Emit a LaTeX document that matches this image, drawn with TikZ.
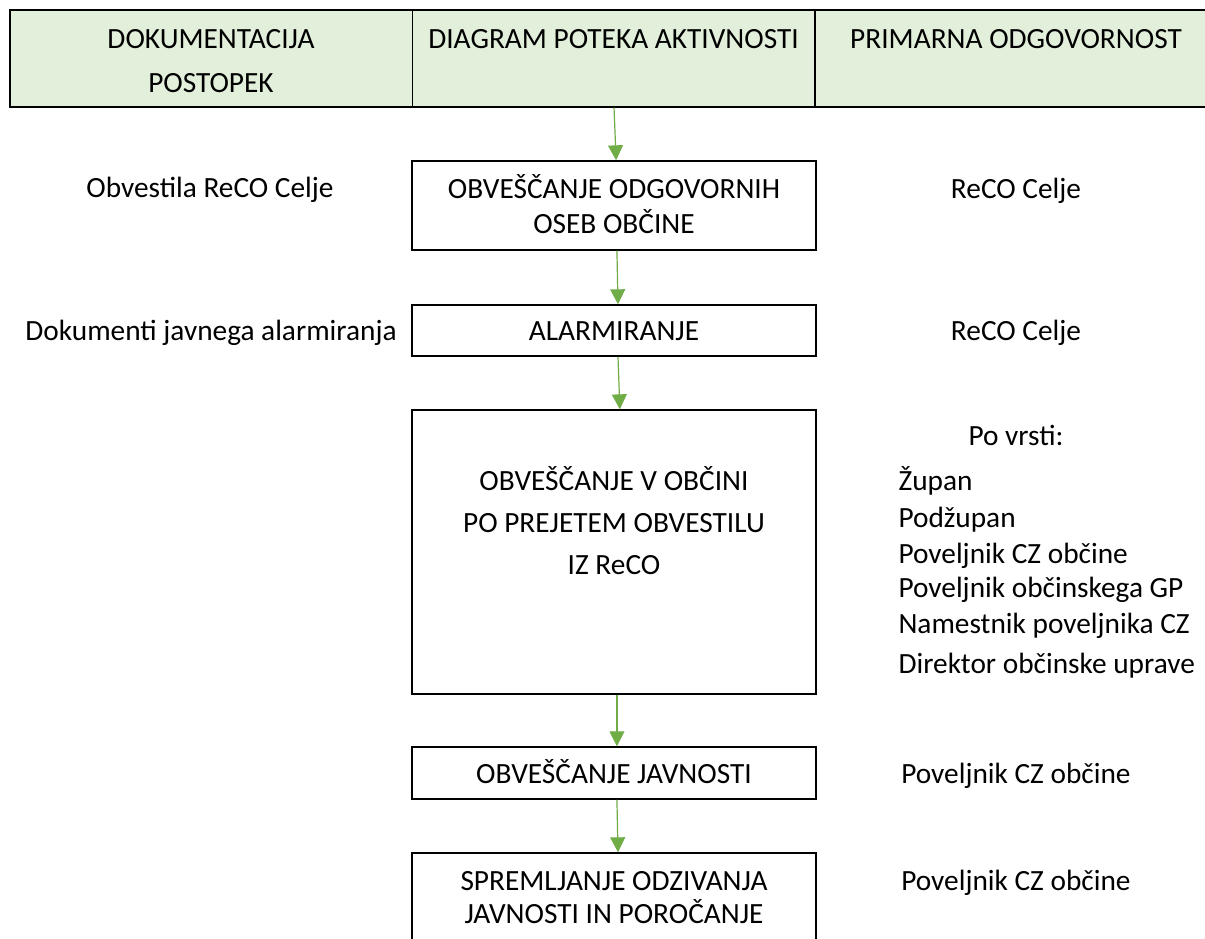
\documentclass[tikz,border=0pt]{standalone}
\usepackage{fontspec}
\setmainfont{Carlito}
\usetikzlibrary{arrows.meta}
\definecolor{hdrgreen}{HTML}{E2EFDA}
\definecolor{flowgreen}{HTML}{70AD47}
\begin{document}
\begin{tikzpicture}[x=0.375pt,y=-0.375pt,
  txt/.style={font=\fontsize{11}{13}\selectfont, inner sep=0pt, anchor=base},
  lst/.style={txt, anchor=base west},
  hdrcell/.style={draw=black, line width=0.4pt, fill=hdrgreen, inner sep=0pt,
    minimum height=36.375pt},
  stepbox/.style={draw=black, line width=0.55pt, fill=white, inner sep=0pt,
    minimum width=151.5pt},
  flow/.style={draw=flowgreen, line width=0.45pt,
    -{Triangle[width=5.6pt,length=5.6pt]}}
]
\clip (0,0) rectangle (1205,938);
\fill[white] (0,0) rectangle (1205,938);

% table header
\node[hdrcell, minimum width=150.94pt] (h1) at (211.25,58.5) {};
\node[hdrcell, minimum width=150.94pt] (h2) at (613.75,58.5) {};
\node[hdrcell, minimum width=151.875pt] (h3) at (1017.5,58.5) {};
\draw[line width=0.6pt] (h3.north east) -- (h1.north west) -- (h1.south west) -- (h3.south east);

\node[txt] (t1a) at (211,48) {DOKUMENTACIJA};
\node[txt] (t1b) at (211,92) {POSTOPEK};
\node[txt] (t2) at (613.5,48) {DIAGRAM POTEKA AKTIVNOSTI};
\node[txt] (t3) at (1016,48) {PRIMARNA ODGOVORNOST};

% activity boxes
\node[stepbox, minimum height=33.375pt] (b1) at (614,205.5) {};
\node[stepbox, minimum height=19.125pt] (b2) at (614,330.5) {};
\node[stepbox, minimum height=106.5pt] (b3) at (614,552) {};
\node[stepbox, minimum height=19.5pt] (b4) at (614,773) {};
\node[stepbox, minimum height=55.125pt] (b5) at (614,926.5) {};

% flow arrows
\draw[flow] ([xshift=0.1pt]h2.south) -- ([xshift=0.8pt]b1.north);
\draw[flow] ([xshift=1.1pt]b1.south) -- ([xshift=1.5pt]b2.north);
\draw[flow] ([xshift=1.5pt]b2.south) -- ([xshift=2.2pt]b3.north);
\draw[flow] ([xshift=1.1pt]b3.south) -- ([xshift=1.1pt]b4.north);
\draw[flow] ([xshift=1.1pt]b4.south) -- ([xshift=1.5pt]b5.north);

% box texts
\node[txt] (b1a) at (614,198) {OBVEŠČANJE ODGOVORNIH};
\node[txt] (b1b) at (614,233) {OSEB OBČINE};
\node[txt] (b2a) at (614,340) {ALARMIRANJE};
\node[txt] (b3a) at (614,490) {OBVEŠČANJE V OBČINI};
\node[txt] (b3b) at (614,532) {PO PREJETEM OBVESTILU};
\node[txt] (b3c) at (614,574) {IZ ReCO};
\node[txt] (b4a) at (614,783) {OBVEŠČANJE JAVNOSTI};
\node[txt] (b5a) at (614,890) {SPREMLJANJE ODZIVANJA};
\node[txt] (b5b) at (614,923) {JAVNOSTI IN POROČANJE};

% documentation column
\node[txt] (d1) at (210,197) {Obvestila ReCO Celje};
\node[txt] (d2) at (211,340) {Dokumenti javnega alarmiranja};

% responsibility column
\node[txt] (r1) at (1016,198) {ReCO Celje};
\node[txt] (r2) at (1016,340) {ReCO Celje};
\node[txt] (r3) at (1016,445) {Po vrsti:};
\node[lst] (r3a) at (898,490) {Župan};
\node[lst] (r3b) at (898,527) {Podžupan};
\node[lst] (r3c) at (898,563) {Poveljnik CZ občine};
\node[lst] (r3d) at (898,597) {Poveljnik občinskega GP};
\node[lst] (r3e) at (898,633) {Namestnik poveljnika CZ};
\node[lst] (r3f) at (898,673) {Direktor občinske uprave};
\node[txt] (r4) at (1016,783) {Poveljnik CZ občine};
\node[txt] (r5) at (1016,890) {Poveljnik CZ občine};
\end{tikzpicture}
\end{document}
